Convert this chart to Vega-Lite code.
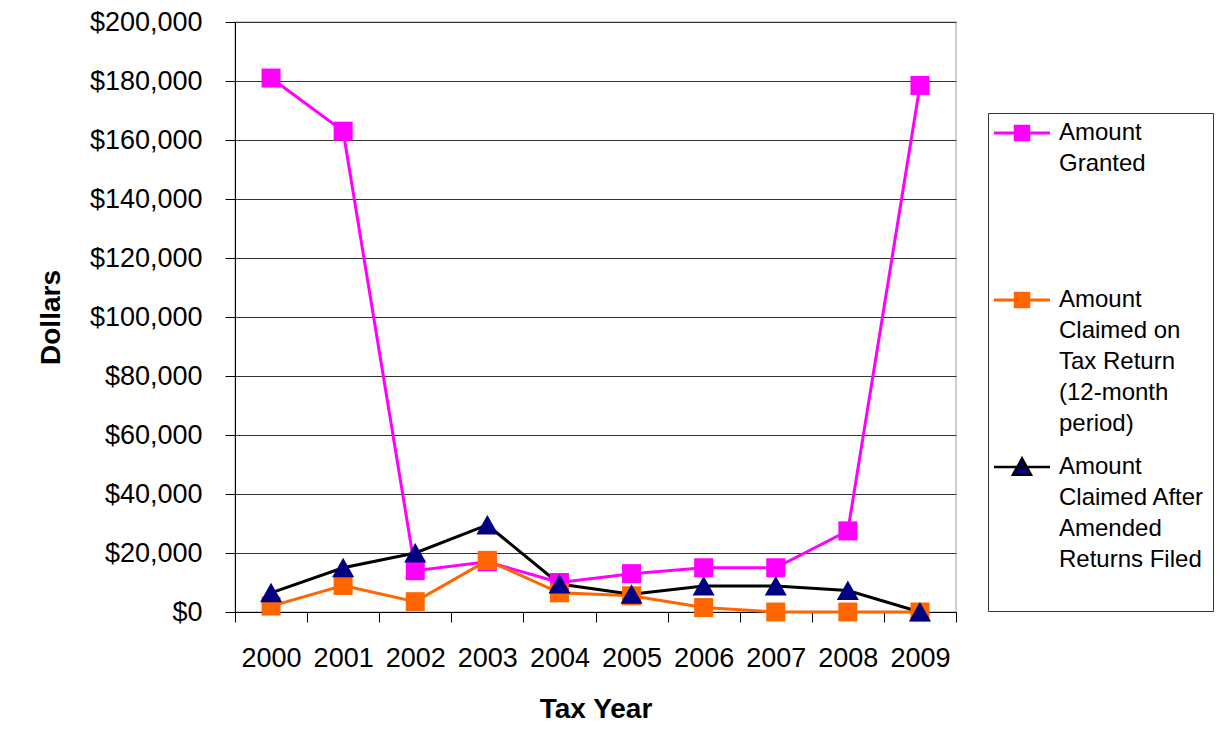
{
  "$schema": "https://vega.github.io/schema/vega-lite/v6.json",
  "autosize": {"type": "none"},
  "padding": {"left": 235, "top": 22, "right": 275, "bottom": 144},
  "width": 721,
  "height": 590,
  "background": "white",
  "config": {
    "font": "Liberation Sans",
    "view": {"stroke": "#c0c0c0", "strokeWidth": 1.5}
  },
  "data": {
    "values": [
      {"year": "2000", "series": "Amount Granted", "value": 181000},
      {"year": "2001", "series": "Amount Granted", "value": 163000},
      {"year": "2002", "series": "Amount Granted", "value": 14000},
      {"year": "2003", "series": "Amount Granted", "value": 17000},
      {"year": "2004", "series": "Amount Granted", "value": 10000},
      {"year": "2005", "series": "Amount Granted", "value": 13000},
      {"year": "2006", "series": "Amount Granted", "value": 15000},
      {"year": "2007", "series": "Amount Granted", "value": 15000},
      {"year": "2008", "series": "Amount Granted", "value": 27500},
      {"year": "2009", "series": "Amount Granted", "value": 178500},
      {"year": "2000", "series": "Amount Claimed on Tax Return (12-month period)", "value": 2000},
      {"year": "2001", "series": "Amount Claimed on Tax Return (12-month period)", "value": 9000},
      {"year": "2002", "series": "Amount Claimed on Tax Return (12-month period)", "value": 3500},
      {"year": "2003", "series": "Amount Claimed on Tax Return (12-month period)", "value": 17500},
      {"year": "2004", "series": "Amount Claimed on Tax Return (12-month period)", "value": 6500},
      {"year": "2005", "series": "Amount Claimed on Tax Return (12-month period)", "value": 5500},
      {"year": "2006", "series": "Amount Claimed on Tax Return (12-month period)", "value": 1500},
      {"year": "2007", "series": "Amount Claimed on Tax Return (12-month period)", "value": 0},
      {"year": "2008", "series": "Amount Claimed on Tax Return (12-month period)", "value": 0},
      {"year": "2009", "series": "Amount Claimed on Tax Return (12-month period)", "value": 0},
      {"year": "2000", "series": "Amount Claimed After Amended Returns Filed", "value": 6500},
      {"year": "2001", "series": "Amount Claimed After Amended Returns Filed", "value": 15000},
      {"year": "2002", "series": "Amount Claimed After Amended Returns Filed", "value": 20000},
      {"year": "2003", "series": "Amount Claimed After Amended Returns Filed", "value": 29500},
      {"year": "2004", "series": "Amount Claimed After Amended Returns Filed", "value": 9500},
      {"year": "2005", "series": "Amount Claimed After Amended Returns Filed", "value": 6000},
      {"year": "2006", "series": "Amount Claimed After Amended Returns Filed", "value": 8800},
      {"year": "2007", "series": "Amount Claimed After Amended Returns Filed", "value": 8800},
      {"year": "2008", "series": "Amount Claimed After Amended Returns Filed", "value": 7300},
      {"year": "2009", "series": "Amount Claimed After Amended Returns Filed", "value": 0}
    ]
  },
  "encoding": {
    "x": {
      "field": "year",
      "type": "ordinal",
      "bandPosition": 0.5,
      "scale": {"type": "band", "paddingInner": 0, "paddingOuter": 0},
      "axis": {
        "title": "Tax Year",
        "labelAngle": 0,
        "tickBand": "extent",
        "tickSize": 10,
        "tickColor": "black",
        "domainColor": "black",
        "labelFontSize": 27,
        "labelColor": "black",
        "labelPadding": 23,
        "titleFontSize": 28,
        "titleFontWeight": "bold",
        "titleColor": "black",
        "titlePadding": 24,
        "grid": false
      }
    },
    "y": {
      "field": "value",
      "type": "quantitative",
      "scale": {"domain": [0, 200000], "nice": false},
      "axis": {
        "title": "Dollars",
        "values": [0, 20000, 40000, 60000, 80000, 100000, 120000, 140000, 160000, 180000, 200000],
        "format": "$,.0f",
        "tickSize": 10,
        "tickColor": "black",
        "domainColor": "black",
        "labelFontSize": 27,
        "labelColor": "black",
        "labelPadding": 23,
        "titleFontSize": 28,
        "titleFontWeight": "bold",
        "titleColor": "black",
        "titlePadding": 24,
        "grid": true,
        "gridColor": "#333333",
        "gridWidth": 1
      }
    }
  },
  "layer": [
    {
      "mark": {"type": "line", "strokeWidth": 3},
      "encoding": {
        "color": {
          "field": "series",
          "type": "nominal",
          "scale": {
            "domain": ["Amount Granted", "Amount Claimed on Tax Return (12-month period)", "Amount Claimed After Amended Returns Filed"],
            "range": ["#ff00ff", "#ff6600", "#000000"]
          },
          "legend": {
            "title": null,
            "orient": "none",
            "legendX": 753,
            "legendY": 91,
            "padding": 8,
            "strokeColor": "#333333",
            "fillColor": "white",
            "gridAlign": "all",
            "rowPadding": 17,
            "symbolSize": 784,
            "symbolOffset": 14,
            "symbolStrokeWidth": 3,
            "labelOffset": 25,
            "labelFontSize": 24,
            "labelColor": "black",
            "labelLimit": 400,
            "labelExpr": "datum.label == 'Amount Granted' ? ['Amount', 'Granted'] : datum.label == 'Amount Claimed After Amended Returns Filed' ? ['Amount', 'Claimed After', 'Amended', 'Returns Filed', ' '] : ['Amount', 'Claimed on', 'Tax Return', '(12-month', 'period)']",
            "encode": {
              "labels": {"update": {"lineHeight": {"value": 31}}},
              "symbols": {
                "update": {
                  "shape": {"signal": "datum.value == 'Amount Claimed After Amended Returns Filed' ? 'M-2,0H2M-0.64,0.55L0,-0.62L0.64,0.55Z' : 'M-2,0H2M-0.48,-0.48H0.48V0.48H-0.48Z'"},
                  "fill": {"signal": "datum.value == 'Amount Granted' ? '#ff00ff' : datum.value == 'Amount Claimed After Amended Returns Filed' ? '#000080' : '#ff6600'"},
                  "stroke": {"signal": "datum.value == 'Amount Granted' ? '#ff00ff' : datum.value == 'Amount Claimed After Amended Returns Filed' ? '#000000' : '#ff6600'"},
                  "strokeWidth": {"signal": "datum.value == 'Amount Claimed After Amended Returns Filed' ? 2.5 : 3"},
                  "opacity": {"value": 1},
                  "fillOpacity": {"value": 1}
                }
              }
            }
          }
        }
      }
    },
    {
      "transform": [{"filter": "datum.series == 'Amount Granted'"}],
      "mark": {"type": "point", "shape": "square", "filled": true, "opacity": 1, "size": 361, "strokeWidth": 0, "fill": "#ff00ff"}
    },
    {
      "transform": [{"filter": "datum.series == 'Amount Claimed on Tax Return (12-month period)'"}],
      "mark": {"type": "point", "shape": "square", "filled": true, "opacity": 1, "size": 361, "strokeWidth": 0, "fill": "#ff6600"}
    },
    {
      "transform": [{"filter": "datum.series == 'Amount Claimed After Amended Returns Filed'"}],
      "mark": {"type": "point", "shape": "M-1.16,1L0,-1.05L1.16,1Z", "filled": true, "opacity": 1, "size": 361, "strokeWidth": 0, "fill": "#000080"}
    }
  ]
}
